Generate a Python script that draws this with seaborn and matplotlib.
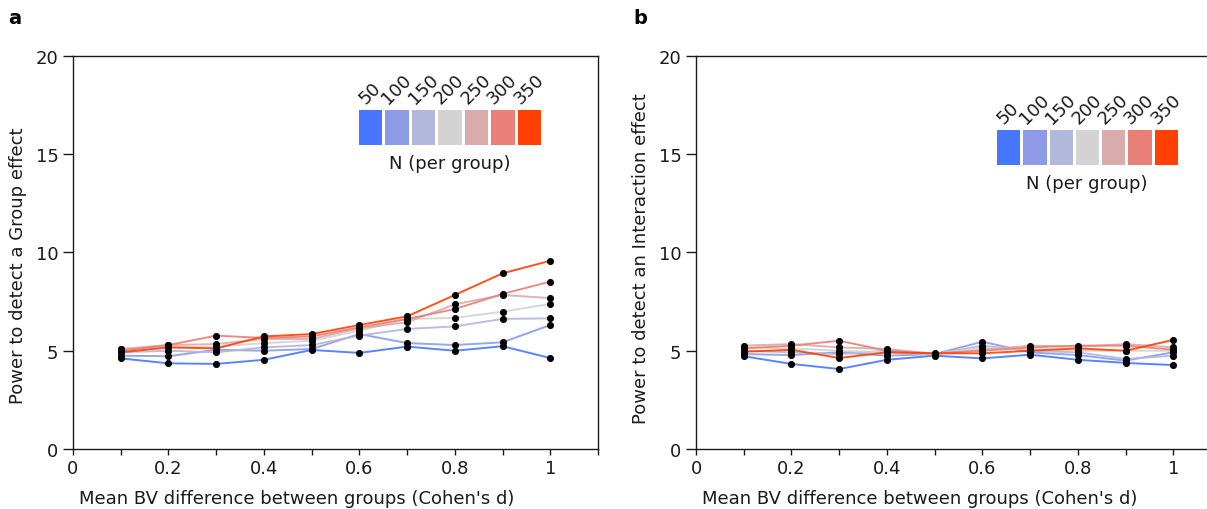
import numpy as np
import pandas as pd
import matplotlib
matplotlib.use("Agg")
import matplotlib.pyplot as plt
import seaborn as sns
from matplotlib.colors import ListedColormap

# ---- data ----
effect_sizes = [0.1, 0.2, 0.3, 0.4, 0.5, 0.6, 0.7, 0.8, 0.9, 1.0]
sample_sizes = [50, 100, 150, 200, 250, 300, 350]
colors = ["#4876FF", "#8D9BE6", "#B2B7DC", "#D3D3D3", "#D9ACAC", "#EA7F78", "#FF4000"]

group_power = {
    50:  [4.61, 4.36, 4.33, 4.54, 5.04, 4.89, 5.21, 5.00, 5.23, 4.63],
    100: [4.75, 4.72, 5.05, 5.00, 5.09, 5.85, 5.39, 5.29, 5.43, 6.31],
    150: [4.92, 5.00, 4.92, 5.17, 5.29, 5.77, 6.11, 6.24, 6.62, 6.65],
    200: [5.09, 5.17, 5.21, 5.39, 5.51, 6.02, 6.62, 6.67, 6.99, 7.38],
    250: [5.09, 5.29, 5.34, 5.60, 5.60, 6.14, 6.45, 7.36, 7.84, 7.68],
    300: [5.00, 5.29, 5.77, 5.65, 5.73, 6.19, 6.62, 7.12, 7.89, 8.52],
    350: [4.92, 5.17, 5.12, 5.73, 5.85, 6.31, 6.75, 7.84, 8.94, 9.58],
}
interaction_power = {
    50:  [4.72, 4.33, 4.07, 4.54, 4.75, 4.61, 4.80, 4.54, 4.38, 4.27],
    100: [4.83, 4.78, 4.92, 4.75, 4.83, 5.46, 4.92, 4.78, 4.50, 4.92],
    150: [5.00, 4.92, 4.83, 5.00, 4.83, 5.26, 5.00, 4.92, 4.58, 4.75],
    200: [5.17, 5.12, 5.00, 4.92, 4.83, 5.17, 5.09, 5.00, 5.00, 5.00],
    250: [5.26, 5.34, 5.17, 5.09, 4.85, 5.05, 5.26, 5.21, 5.34, 5.17],
    300: [5.12, 5.26, 5.51, 5.00, 4.85, 5.00, 5.17, 5.26, 5.26, 5.05],
    350: [4.95, 5.05, 4.63, 4.92, 4.87, 4.87, 5.00, 5.12, 5.00, 5.55],
}

def to_long(d):
    rows = []
    for n, vals in d.items():
        for x, v in zip(effect_sizes, vals):
            rows.append({"d": x, "power": v, "N": n})
    return pd.DataFrame(rows)

sns.set_style("ticks")
plt.rcParams["font.family"] = ["DejaVu Sans"]
FS = 13
TXT = "#1a1a1a"

fig = plt.figure(figsize=(12.07, 5.10), dpi=100)
W, H = 1207, 510

def add_axes_px(left, top, right, bottom):
    return fig.add_axes([left / W, 1 - bottom / H, (right - left) / W, (bottom - top) / H])

ax_a = add_axes_px(73, 57, 598, 450)
ax_b = add_axes_px(696, 57, 1221, 450)

palette = dict(zip(sample_sizes, colors))

def draw_panel(ax, data, ylabel, ylab_y, leg_box):
    df = to_long(data)
    sns.lineplot(data=df, x="d", y="power", hue="N", palette=palette, ax=ax,
                 legend=False, linewidth=1.4, alpha=0.9, zorder=2)
    sns.scatterplot(data=df, x="d", y="power", color="black", s=20, ax=ax,
                    legend=False, zorder=3, edgecolor="black", linewidth=0.6)
    ax.set_xlim(0, 1.1)
    ax.set_ylim(0, 20)
    ax.set_xticks([0, 0.2, 0.4, 0.6, 0.8, 1.0])
    ax.set_xticklabels(["0", "0.2", "0.4", "0.6", "0.8", "1"])
    ax.set_xticks([0.1, 0.3, 0.5, 0.7, 0.9, 1.1], minor=True)
    ax.set_yticks([0, 5, 10, 15, 20])
    ax.tick_params(axis="x", which="both", length=4, width=1, labelsize=FS, colors=TXT)
    ax.tick_params(axis="y", length=7, width=1, labelsize=FS, colors=TXT)
    for s in ax.spines.values():
        s.set_color(TXT)
        s.set_linewidth(1.0)
    ax.set_xlabel("Mean BV difference between groups (Cohen's d)", fontsize=FS, color=TXT)
    ax.set_ylabel(ylabel, fontsize=FS, color=TXT)
    ax.xaxis.set_label_coords(0.427, -0.102)
    ax.yaxis.set_label_coords(-0.088, ylab_y)

    # colour legend as heatmap inset
    lax = ax.inset_axes(leg_box)
    cmap = ListedColormap(colors)
    sns.heatmap(np.arange(len(sample_sizes))[None, :], cmap=cmap, cbar=False, ax=lax,
                linewidths=2, linecolor="white", vmin=-0.5, vmax=len(sample_sizes) - 0.5)
    lax.xaxis.tick_top()
    lax.set_xticks(np.arange(len(sample_sizes)) + 0.5)
    lax.set_xticklabels([str(n) for n in sample_sizes], rotation=45, ha="center", fontsize=FS)
    lax.tick_params(axis="x", length=0, pad=1, colors=TXT)
    lax.set_yticks([])
    lax.set_xlabel("")
    lax.set_ylabel("")
    lax.text(0.5, -0.22, "N (per group)", transform=lax.transAxes, ha="center", va="top",
             fontsize=FS, color=TXT)

def frac_box(ax_left, x0, y0, x1, y1):
    w = 525.0
    h = 393.0
    return [(x0 - ax_left) / w, (450 - y1) / h, (x1 - x0) / w, (y1 - y0) / h]

draw_panel(ax_a, group_power, "Power to detect a Group effect", 0.47,
           frac_box(73, 357, 109, 542, 147))
draw_panel(ax_b, interaction_power, "Power to detect an Interaction effect", 0.486,
           frac_box(696, 995, 129, 1179, 167))

fig.text(8 / W, 1 - 18 / H, "a", fontsize=14, fontweight="bold", va="center", ha="left", color="black")
fig.text(633 / W, 1 - 18 / H, "b", fontsize=14, fontweight="bold", va="center", ha="left", color="black")

fig.savefig("out.png", dpi=100)
